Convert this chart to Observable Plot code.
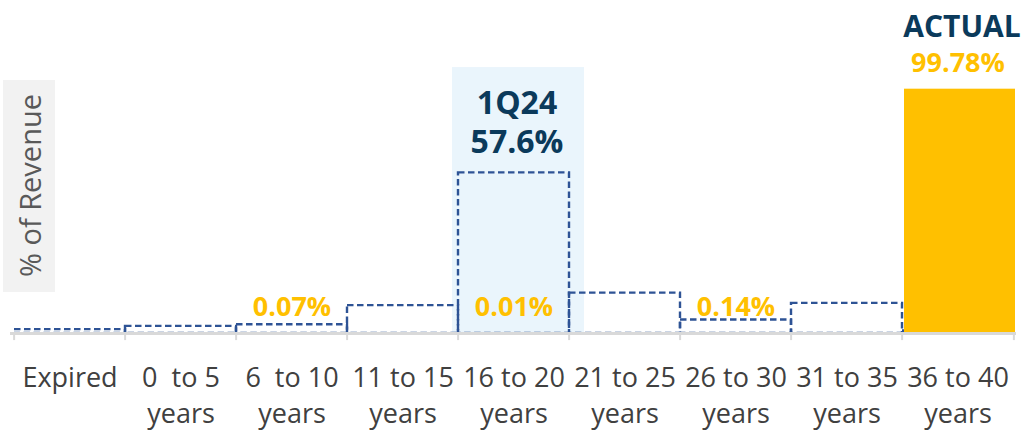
<!DOCTYPE html>
<html><head><meta charset="utf-8">
<script src="https://cdn.jsdelivr.net/npm/d3@7"></script>
<script src="https://cdn.jsdelivr.net/npm/@observablehq/plot@0.6"></script>
<style>
html,body{margin:0;padding:0;background:#fff;}
#wrap{position:relative;width:1032px;height:431px;overflow:hidden;}
#ylab{position:absolute;left:3px;top:80px;width:52px;height:212px;background:#F2F2F2;display:flex;align-items:center;justify-content:center;}
#ylab span{writing-mode:vertical-rl;transform:rotate(180deg);font-family:"Open Sans";font-size:29px;color:#595959;white-space:nowrap;}
svg text{white-space:pre;}
</style></head><body>
<div id="wrap"><div id="chart"></div><div id="ylab"><span>% of Revenue</span></div></div>
<script>
const categories = ["Expired","0  to 5","6  to 10","11 to 15","16 to 20","21 to 25","26 to 30","31 to 35","36 to 40"];
const tickLabels = ["Expired","0  to 5\nyears","6  to 10\nyears","11 to 15\nyears","16 to 20\nyears","21 to 25\nyears","26 to 30\nyears","31 to 35\nyears","36 to 40\nyears"];
const q124Values = [1.6, 2.9, 3.6, 11.4, 65.6, 16.5, 5.5, 12.3, 1.0];
const actualValues = [0, 0, 0.07, 0, 0.01, 0, 0.14, 0, 99.78];
const actualLabels = ["", "", "0.07%", "", "0.01%", "", "0.14%", "", "99.78%"];
const highlightCategory = "16 to 20";
const highlightLabel = "1Q24\n57.6%";
const actualCategory = "36 to 40";
const actualTitle = "ACTUAL";
const highlightTop = 108.6;

const rows = categories.map((c, i) => ({cat: c, q: q124Values[i], a: actualValues[i], label: actualLabels[i], tick: tickLabels[i]}));
const W = 1032, H = 431, ML = 10, MR = 16;
const bw = (W - ML - MR) / categories.length;
const navy = "#0B3A5B", gold = "#FFC000";

const chart = Plot.plot({
  width: W, height: H,
  marginLeft: ML, marginRight: MR, marginTop: 0, marginBottom: 98,
  style: {fontFamily: "Open Sans", background: "transparent"},
  x: {domain: categories, padding: 0, axis: null},
  y: {domain: [0, 136], axis: null},
  marks: [
    Plot.barY([highlightCategory], {x: d => d, y: () => highlightTop, fill: "#EAF5FC", insetLeft: -6, insetRight: -15}),
    Plot.barY(rows, {x: "cat", y: "q", fill: "none", stroke: "#2E5395", strokeWidth: 2.4, strokeDasharray: "6.5,3.5"}),
    Plot.barY(rows, {x: "cat", y: "a", fill: gold, insetLeft: 2, insetRight: -2}),
    Plot.ruleY([0], {stroke: "#D9D9D9", strokeWidth: 3}),
    Plot.ruleX(rows, {x: "cat", dx: -bw / 2, y1: 0, y2: -2.9, stroke: "#D9D9D9", strokeWidth: 2}),
    Plot.ruleX(rows.slice(-1), {x: "cat", dx: bw / 2, y1: 0, y2: -2.9, stroke: "#D9D9D9", strokeWidth: 2}),
    Plot.text(rows.filter(d => d.label), {x: "cat", y: "a", text: "label", dy: -17.5, lineAnchor: "bottom", fill: gold, fontSize: 27, fontWeight: "bold"}),
    Plot.text(rows.filter(d => d.cat === actualCategory), {x: "cat", y: "a", text: () => actualTitle, dy: -52, dx: 4, lineAnchor: "bottom", fill: navy, fontSize: 30, fontWeight: "bold"}),
    Plot.text(rows.filter(d => d.cat === highlightCategory), {x: "cat", y: "q", text: () => highlightLabel, dy: -20, dx: 3, lineAnchor: "bottom", lineHeight: 1.2, fill: navy, fontSize: 32, fontWeight: "bold"}),
    Plot.text(rows, {x: "cat", y: () => 0, text: "tick", lineAnchor: "top", dy: 29, lineHeight: 1.3, fill: "#404040", fontSize: 27})
  ]
});
document.getElementById("chart").appendChild(chart);
</script>
</body></html>
